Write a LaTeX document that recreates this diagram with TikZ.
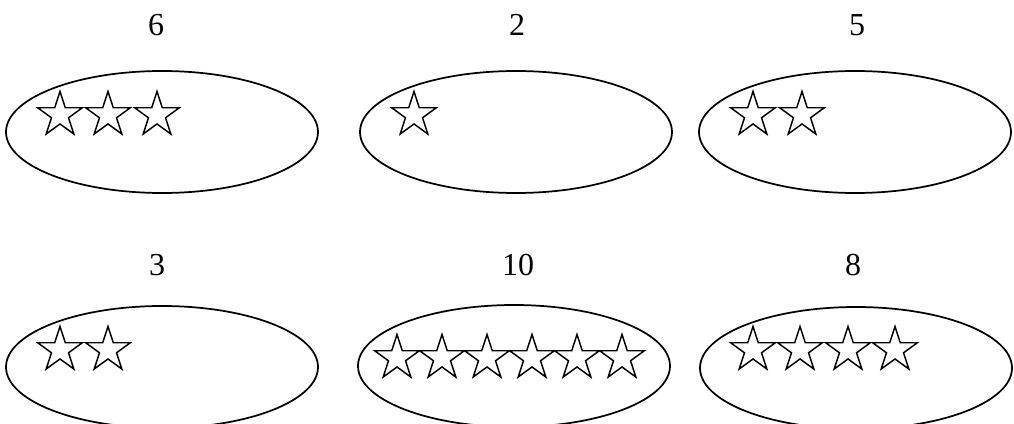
\documentclass[tikz,border=0pt]{standalone}
\usepackage{fontspec}
\setmainfont{Liberation Serif}
\usetikzlibrary{shapes.geometric}
\begin{document}
\begin{tikzpicture}[x=0.75pt,y=-0.75pt,
  oval/.style={draw,ellipse,line width=1.3pt,minimum width=234pt,minimum height=91.5pt,inner sep=0pt,outer sep=0pt},
  starshape/.style={draw,star,star points=5,star point ratio=2.618,minimum size=35.25pt,inner sep=0pt,outer sep=0pt,line width=1.1pt},
  num/.style={font=\fontsize{24}{28}\selectfont,inner sep=0pt}]
\useasboundingbox (0,0) rectangle (1014,424);
% ovals
\node[oval] (e1) at (162,132) {};
\node[oval] (e2) at (516,132) {};
\node[oval] (e3) at (855,132) {};
\node[oval] (e4) at (162,367) {};
\node[oval] (e5) at (514,366) {};
\node[oval] (e6) at (856,368) {};
% labels
\node[num] (l1) at (156,25) {6};
\node[num] (l2) at (517,25) {2};
\node[num] (l3) at (857,25) {5};
\node[num] (l4) at (157,265) {3};
\node[num] (l5) at (518,265) {10};
\node[num] (l6) at (853,265) {8};
% stars
\foreach \x [count=\i] in {60,108,157} \node[starshape] (sa\i) at (\x,115) {};
\node[starshape] (sb1) at (414,115) {};
\foreach \x [count=\i] in {753,802} \node[starshape] (sc\i) at (\x,115) {};
\foreach \x [count=\i] in {60,108} \node[starshape] (sd\i) at (\x,350) {};
\foreach \x [count=\i] in {397,442,487,532,577,622} \node[starshape] (se\i) at (\x,358) {};
\foreach \x [count=\i] in {753,800,848,895} \node[starshape] (sf\i) at (\x,350) {};
\end{tikzpicture}
\end{document}
